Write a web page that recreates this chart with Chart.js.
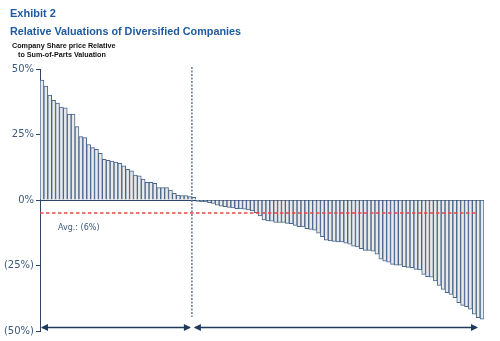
<!DOCTYPE html>
<html>
<head>
<meta charset="utf-8">
<script src="https://cdn.jsdelivr.net/npm/chart.js@4.4.1/dist/chart.umd.min.js"></script>
<style>
  body { margin:0; background:#fff; }
  #wrap { position:relative; width:500px; height:341px; }
  #chart { position:absolute; left:0; top:0; }
  .t { position:absolute; font-family:"Liberation Sans", Arial, sans-serif; font-weight:bold; white-space:nowrap; }
  #ex { left:10px; top:7px; font-size:11px; color:#1f5aa0; }
  #ttl { left:10px; top:25px; font-size:10.8px; color:#1f5aa0; }
  #sub1 { left:12px; top:41px; font-size:7.2px; color:#111; }
  #sub2 { left:18px; top:50px; font-size:7.2px; color:#111; }
</style>
</head>
<body>
<div id="wrap">
  <canvas id="chart" width="500" height="341"></canvas>
  <div class="t" id="ex">Exhibit 2</div>
  <div class="t" id="ttl">Relative Valuations of Diversified Companies</div>
  <div class="t" id="sub1">Company Share price Relative</div>
  <div class="t" id="sub2">to Sum-of-Parts Valuation</div>
</div>
<script>
// companies trading at a premium to sum-of-parts (%)
var premiumValues = [45.8, 43.5, 40, 38, 37, 35.5, 35.2, 32.8, 32.8, 28,
  24.2, 23.8, 21.2, 20, 19.3, 17.8, 15.5, 15.1, 14.9, 14.5,
  14, 13, 11.7, 11.1, 9.5, 9.2, 8, 6.7, 6.7, 6.4,
  4.7, 4.7, 4.7, 3.8, 2.5, 1.9, 1.7, 1.7, 1.3, 1.0];
// companies trading at a discount (%)
var discountValues = [-0.5, -0.6, -0.6, -1, -1.3, -2, -2.4, -2.5, -2.8, -3.0,
  -3.3, -3.4, -3.5, -3.8, -4.2, -4.8, -6.1, -7.6, -8, -8.1,
  -8.6, -8.6, -8.6, -8.9, -9.0, -9.7, -10.2, -10.3, -10.9, -11.2,
  -11.5, -12.7, -14, -15.3, -15.6, -15.8, -16, -16, -16.5, -16.9,
  -17.6, -17.9, -18.6, -19.2, -19.2, -19.5, -20.7, -22.6, -23.3, -23.7,
  -24.6, -24.9, -24.9, -25.4, -25.7, -25.8, -26.5, -26.7, -28.4, -29.3,
  -29.5, -30.9, -32.6, -34.1, -35.4, -36, -37.3, -39.2, -40.2, -40.7,
  -41.7, -43.6, -44.9, -45.5];
var yTicks = [50, 25, 0, -25, -50];
var avgValue = -5;
var avgLabel = "Avg.: (6%)";

var values = premiumValues.concat(discountValues);
var companies = values.map(function(v, i){ return "C" + (i + 1); });
var splitIndex = premiumValues.length - 1; // dashed divider sits at this bar's left edge

function fmtPct(v){ return v < 0 ? "(" + Math.abs(v) + "%)" : v + "%"; }

function arrowHead(ctx, x, y, dir){
  ctx.beginPath();
  ctx.moveTo(x, y);
  ctx.lineTo(x - dir*7, y - 3.5);
  ctx.lineTo(x - dir*7, y + 3.5);
  ctx.closePath();
  ctx.fill();
}

var extras = {
  id: "extras",
  afterDatasetsDraw: function(chart){
    var ctx = chart.ctx, xs = chart.scales.x, ys = chart.scales.y, ca = chart.chartArea;
    var bw = xs.getPixelForValue(1) - xs.getPixelForValue(0);
    var splitX = xs.getPixelForValue(splitIndex) - bw/2;
    ctx.save();
    // average line
    var ay = Math.round(ys.getPixelForValue(avgValue));
    ctx.strokeStyle = "rgb(240, 70, 70)";
    ctx.lineWidth = 1.6;
    ctx.setLineDash([3.5, 2.5]);
    ctx.beginPath(); ctx.moveTo(ca.left, ay); ctx.lineTo(ca.right - 6, ay); ctx.stroke();
    // divider
    ctx.strokeStyle = "#5a7898";
    ctx.lineWidth = 1.5;
    ctx.setLineDash([2, 1.5]);
    ctx.beginPath(); ctx.moveTo(splitX, ca.top - 2); ctx.lineTo(splitX, ca.bottom - 14); ctx.stroke();
    ctx.setLineDash([]);
    // avg label
    ctx.fillStyle = "#3d5a80";
    ctx.font = "8px 'DejaVu Sans'";
    ctx.textBaseline = "middle";
    ctx.fillText(avgLabel, ca.left + 18, ay + 15);
    // bottom arrows
    var yy = ca.bottom - 3.5;
    ctx.strokeStyle = "#1f3a5c";
    ctx.fillStyle = "#1f3a5c";
    ctx.lineWidth = 1.5;
    ctx.beginPath(); ctx.moveTo(ca.left + 2, yy); ctx.lineTo(splitX - 2, yy); ctx.stroke();
    arrowHead(ctx, ca.left + 1, yy, -1);
    arrowHead(ctx, splitX - 1, yy, 1);
    ctx.beginPath(); ctx.moveTo(splitX + 3, yy); ctx.lineTo(ca.right - 8, yy); ctx.stroke();
    arrowHead(ctx, splitX + 2, yy, -1);
    arrowHead(ctx, ca.right - 6, yy, 1);
    ctx.restore();
  }
};

new Chart("chart", {
  type: "bar",
  data: {
    labels: companies,
    datasets: [{
      data: values,
      backgroundColor: "#e9e9e9",
      borderColor: "#46658a",
      borderWidth: 1,
      borderSkipped: "start",
      barPercentage: 1,
      categoryPercentage: 1
    }]
  },
  options: {
    responsive: false,
    animation: false,
    layout: { padding: { left: 0, right: 16, top: 69, bottom: 10 } },
    plugins: { legend: { display: false }, tooltip: { enabled: false } },
    scales: {
      x: { display: false },
      y: {
        min: -50, max: 50,
        afterBuildTicks: function(s){ s.ticks = yTicks.map(function(v){ return {value: v}; }); },
        afterFit: function(s){ s.width = 40; },
        border: { color: "#2a4565", width: 1 },
        grid: {
          color: function(c){ return c.tick && c.tick.value === 0 ? "#2a4565" : "transparent"; },
          tickColor: "#2a4565",
          tickLength: 4
        },
        ticks: {
          color: "#3d5a7c",
          font: { family: "DejaVu Sans", size: 10 },
          padding: 2,
          callback: function(v){ return fmtPct(v); }
        }
      }
    }
  },
  plugins: [extras]
});
</script>
</body>
</html>
